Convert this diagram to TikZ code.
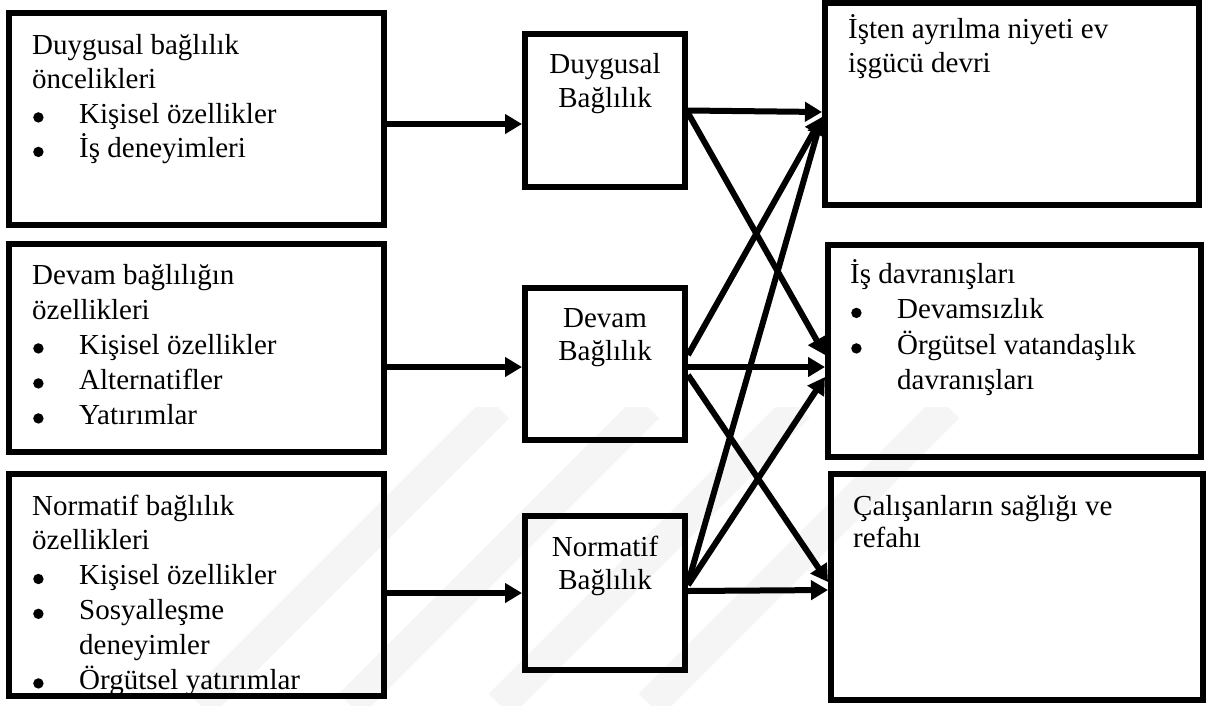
\documentclass[tikz,border=0pt]{standalone}
\usepackage{fontspec}
\setmainfont{Liberation Serif}
\usetikzlibrary{arrows.meta}
% round list bullet sitting on the baseline
\newcommand{\listdot}{\tikz[baseline=0pt]\fill (5.2pt,5.6pt) circle (5.2pt);}
% bullet item and indented continuation line
\newcommand{\bul}[1]{\hbox{\makebox[47pt][l]{\hspace*{1pt}\listdot}#1}}
\newcommand{\cont}[1]{\hbox{\hspace*{47pt}#1}}
\newcommand{\lines}[2]{\vtop{\baselineskip=#1pt #2}}
\newcommand{\clines}[2]{\vtop{\baselineskip=#1pt \halign{\hfil##\hfil\cr #2}}}

\begin{document}
\begin{tikzpicture}[x=1pt,y=-1pt,
  box/.style={draw, line width=6pt, inner sep=0pt, rectangle},
  txt/.style={anchor=base west, inner sep=0pt, font=\fontsize{29}{34}\selectfont},
  ctxt/.style={anchor=base, inner sep=0pt, font=\fontsize{29}{34}\selectfont},
  link/.style={line width=6pt, -{Triangle[length=17pt,width=19pt]}},
  emblem/.style={line width=32pt, black!4}]

\useasboundingbox (0,0) rectangle (1206,705);

% faint background emblem
\begin{scope}
  \clip (0,407) rectangle (1206,705);
  \foreach \s in {905,1055,1205,1355}
    \draw[emblem] (\s-705,705) -- (\s-407,407);
\end{scope}

% antecedent boxes
\node[box, minimum width=375pt, minimum height=212pt] (L1) at (196.5,119) {};
\node[box, minimum width=375pt, minimum height=208pt] (L2) at (196.5,348) {};
\node[box, minimum width=375pt, minimum height=222pt] (L3) at (196.5,585) {};

% commitment boxes
\node[box, minimum width=160pt, minimum height=153pt] (M1) at (605,110.5) {};
\node[box, minimum width=160pt, minimum height=152pt] (M2) at (605,364) {};
\node[box, minimum width=160pt, minimum height=154pt] (M3) at (605,593) {};

% outcome boxes
\node[box, minimum width=374pt, minimum height=202pt] (R1) at (1012,104) {};
\node[box, minimum width=373pt, minimum height=212pt] (R2) at (1014.5,351) {};
\node[box, minimum width=372pt, minimum height=226pt] (R3) at (1017,587) {};

% texts
\node[txt] (tL1) at (32,54) {\lines{34.5}{\hbox{Duygusal bağlılık}\hbox{öncelikleri}\bul{Kişisel özellikler}\bul{İş deneyimleri}}};
\node[txt] (tL2) at (32,284) {\lines{35}{\hbox{Devam bağlılığın}\hbox{özellikleri}\bul{Kişisel özellikler}\bul{Alternatifler}\bul{Yatırımlar}}};
\node[txt] (tL3) at (32,515) {\lines{34.8}{\hbox{Normatif bağlılık}\hbox{özellikleri}\bul{Kişisel özellikler}\bul{Sosyalleşme}\cont{deneyimler}\bul{Örgütsel yatırımlar}}};

\node[ctxt] (tM1) at (605,73) {\clines{34}{Duygusal\cr Bağlılık\cr}};
\node[ctxt] (tM2) at (605,327) {\clines{33.5}{Devam\cr Bağlılık\cr}};
\node[ctxt] (tM3) at (605,556) {\clines{33.5}{Normatif\cr Bağlılık\cr}};

\node[txt] (tR1) at (848,38) {\lines{34}{\hbox{İşten ayrılma niyeti ev}\hbox{işgücü devri}}};
\node[txt] (tR2) at (850,283) {\lines{35.5}{\hbox{İş davranışları}\bul{Devamsızlık}\bul{Örgütsel vatandaşlık}\cont{davranışları}}};
\node[txt] (tR3) at (853,515) {\lines{32.5}{\hbox{Çalışanların sağlığı ve}\hbox{refahı}}};

% antecedents to commitment types
\draw[link] ([yshift=-5pt]L1.east) -- ([yshift=-13.5pt]M1.west);
\draw[link] ([yshift=-19pt]L2.east) -- ([yshift=-3pt]M2.west);
\draw[link] ([yshift=-8pt]L3.east) -- (M3.west);

% commitment types to outcomes
\draw[link] (M1.east) -- ([yshift=-8pt]R1.west);
\draw[link] ([yshift=-2.5pt]M1.east) -- ([yshift=-4pt]R2.west);
\draw[link] ([yshift=9pt]M2.east) -- ([yshift=-13pt]R1.west);
\draw[link] ([yshift=-3pt]M2.east) -- ([yshift=-16pt]R2.west);
\draw[link] ([yshift=-11pt]M2.east) -- ([yshift=5pt]R3.west);
\draw[link] ([yshift=10pt]M3.east) -- ([yshift=-13pt]R1.west);
\draw[link] ([yshift=8pt]M3.east) -- ([yshift=-26pt]R2.west);
\draw[link] ([yshift=2pt]M3.east) -- ([yshift=-3pt]R3.west);
\end{tikzpicture}
\end{document}
